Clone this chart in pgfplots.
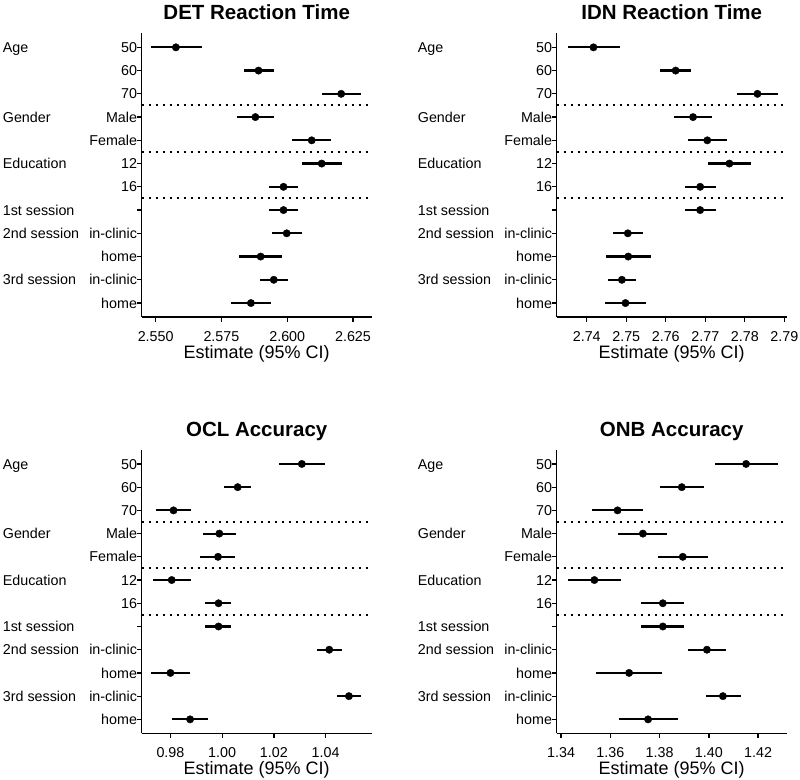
\documentclass[border=0pt]{standalone}
\usepackage{fontspec}
\setmainfont{Liberation Sans}
\usepackage{pgfplots}
\usepackage{pgfplotstable}
\pgfplotsset{compat=1.18}

\pgfplotstableread{
y est lo hi
12 2.5577 2.5482 2.5675
11 2.5891 2.5835 2.5950
10 2.6205 2.6132 2.6280
9 2.5879 2.5810 2.5948
8 2.6093 2.6020 2.6166
7 2.6131 2.6055 2.6209
6 2.5986 2.5930 2.6042
5 2.5986 2.5930 2.6042
4 2.5998 2.5941 2.6055
3 2.5899 2.5818 2.5982
2 2.5949 2.5895 2.6004
1 2.5862 2.5787 2.5938
}\detdata

\pgfplotstableread{
y est lo hi
12 2.7417 2.7352 2.7483
11 2.7625 2.7586 2.7665
10 2.7832 2.7781 2.7884
9 2.7669 2.7621 2.7718
8 2.7705 2.7655 2.7754
7 2.7761 2.7708 2.7815
6 2.7687 2.7648 2.7726
5 2.7687 2.7648 2.7726
4 2.7504 2.7467 2.7542
3 2.7505 2.7449 2.7562
2 2.7489 2.7454 2.7525
1 2.7498 2.7446 2.7550
}\idndata

\pgfplotstableread{
y est lo hi
12 1.0308 1.0221 1.0396
11 1.0060 1.0008 1.0113
10 0.9812 0.9745 0.9880
9 0.9989 0.9926 1.0053
8 0.9984 0.9916 1.0051
7 0.9805 0.9734 0.9878
6 0.9986 0.9934 1.0036
5 0.9986 0.9934 1.0036
4 1.0414 1.0365 1.0464
3 0.9800 0.9725 0.9876
2 1.0490 1.0443 1.0538
1 0.9876 0.9807 0.9946
}\ocldata

\pgfplotstableread{
y est lo hi
12 1.4151 1.4024 1.4280
11 1.3890 1.3802 1.3981
10 1.3629 1.3526 1.3734
9 1.3732 1.3631 1.3830
8 1.3894 1.3793 1.3997
7 1.3535 1.3427 1.3642
6 1.3813 1.3725 1.3900
5 1.3813 1.3725 1.3900
4 1.3992 1.3916 1.4070
3 1.3676 1.3543 1.3810
2 1.4057 1.3988 1.4130
1 1.3753 1.3634 1.3874
}\onbdata

\newcommand{\tickfont}{\fontsize{14.3bp}{17bp}\selectfont}

\pgfplotsset{forest/.style={
  scale only axis, width=230bp, anchor=south west,
  ymin=0.4, ymax=12.6,
  axis x line*=bottom, axis y line*=left,
  axis line style={line width=1.4bp, -, black},
  tick align=outside, major tick length=4.5bp,
  every tick/.style={black, line width=1.3bp},
  ytick={1,...,12},
  yticklabels={home,in-clinic,home,in-clinic,,16,12,Female,Male,70,60,50},
  tick label style={font=\tickfont, inner sep=0pt},
  yticklabel style={anchor=base east, yshift=-5.1bp},
  xticklabel style={anchor=base, yshift=-20bp},
  extra y ticks={5.5,7.5,9.5},
  extra y tick labels={},
  extra y tick style={grid=major, major tick length=0pt,
    major grid style={black, line width=2bp, dash pattern=on 2bp off 5bp}},
  xlabel={Estimate (95\% CI)},
  xlabel style={font=\fontsize{18bp}{21bp}\selectfont, at={(0.5,0)}, anchor=base, yshift=-41.5bp, inner sep=0pt},
  title style={font=\fontsize{20.5bp}{24bp}\selectfont\bfseries, at={(0.5,1)}, anchor=base, yshift=7.5bp, inner sep=0pt},
  clip=false,
}}

\newcommand{\groups}[1]{%
  \node[font=\tickfont, anchor=base west, inner sep=0pt, yshift=-5.1bp] at ([xshift=-139bp]axis cs:#1,12) {Age};
  \node[font=\tickfont, anchor=base west, inner sep=0pt, yshift=-5.1bp] at ([xshift=-139bp]axis cs:#1,9) {Gender};
  \node[font=\tickfont, anchor=base west, inner sep=0pt, yshift=-5.1bp] at ([xshift=-139bp]axis cs:#1,7) {Education};
  \node[font=\tickfont, anchor=base west, inner sep=0pt, yshift=-5.1bp] at ([xshift=-139bp]axis cs:#1,5) {1st session};
  \node[font=\tickfont, anchor=base west, inner sep=0pt, yshift=-5.1bp] at ([xshift=-139bp]axis cs:#1,4) {2nd session};
  \node[font=\tickfont, anchor=base west, inner sep=0pt, yshift=-5.1bp] at ([xshift=-139bp]axis cs:#1,2) {3rd session};
}

\pgfplotsset{ciplot/.style={black, only marks, mark=*, mark size=3.7bp,
  error bars/.cd, x dir=both, x explicit, error mark=none,
  error bar style={line width=2.2bp, black, solid}}}

\begin{document}
\begin{tikzpicture}
\useasboundingbox (0,0) rectangle (800bp,-780bp);

\begin{axis}[forest, at={(141.7bp,-317bp)}, height=283.6bp,
  title={DET Reaction Time},
  xmin=2.5447, xmax=2.6321,
  xtick={2.550,2.575,2.600,2.625}, xticklabels={2.550,2.575,2.600,2.625}]
\addplot[ciplot] table[x=est, y=y, x error plus expr=\thisrow{hi}-\thisrow{est}, x error minus expr=\thisrow{est}-\thisrow{lo}] {\detdata};
\groups{2.5447}
\end{axis}

\begin{axis}[forest, at={(556.7bp,-317bp)}, height=283.6bp,
  title={IDN Reaction Time},
  xmin=2.7324, xmax=2.7906,
  xtick={2.74,2.75,2.76,2.77,2.78,2.79}, xticklabels={2.74,2.75,2.76,2.77,2.78,2.79}]
\addplot[ciplot] table[x=est, y=y, x error plus expr=\thisrow{hi}-\thisrow{est}, x error minus expr=\thisrow{est}-\thisrow{lo}] {\idndata};
\groups{2.7324}
\end{axis}

\begin{axis}[forest, at={(141.7bp,-733.3bp)}, height=283.3bp,
  title={OCL Accuracy},
  xmin=0.9689, xmax=1.0578,
  xtick={0.98,1.00,1.02,1.04}, xticklabels={0.98,1.00,1.02,1.04}]
\addplot[ciplot] table[x=est, y=y, x error plus expr=\thisrow{hi}-\thisrow{est}, x error minus expr=\thisrow{est}-\thisrow{lo}] {\ocldata};
\groups{0.9689}
\end{axis}

\begin{axis}[forest, at={(556.7bp,-733.3bp)}, height=283.3bp,
  title={ONB Accuracy},
  xmin=1.3382, xmax=1.4316,
  xtick={1.34,1.36,1.38,1.40,1.42}, xticklabels={1.34,1.36,1.38,1.40,1.42}]
\addplot[ciplot] table[x=est, y=y, x error plus expr=\thisrow{hi}-\thisrow{est}, x error minus expr=\thisrow{est}-\thisrow{lo}] {\onbdata};
\groups{1.3382}
\end{axis}
\end{tikzpicture}
\end{document}
